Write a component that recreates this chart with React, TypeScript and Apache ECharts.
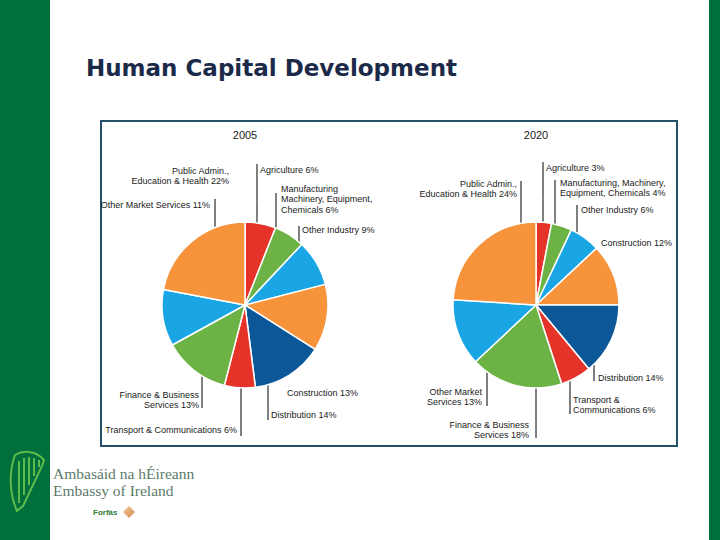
import React, { useEffect, useRef } from 'react';
import * as echarts from 'echarts';

// ---- data ----
const sectors = ['Agriculture', 'Manufacturing', 'Other Industry', 'Construction', 'Distribution', 'Transport & Communications', 'Finance & Business Services', 'Other Market Services', 'Public Admin., Education & Health'];
const values2005 = [6, 6, 9, 13, 14, 6, 13, 11, 22];
const values2020 = [3, 4, 6, 12, 14, 6, 18, 13, 24];
const labels2005 = ['Agriculture 6%', 'Manufacturing\nMachinery, Equipment,\nChemicals 6%', 'Other Industry 9%', 'Construction 13%', 'Distribution 14%', 'Transport & Communications 6%', 'Finance & Business\nServices 13%', 'Other Market Services 11%', 'Public Admin.,\nEducation & Health 22%'];
const labels2020 = ['Agriculture 3%', 'Manufacturing, Machinery,\nEquipment, Chemicals 4%', 'Other Industry 6%', 'Construction 12%', 'Distribution 14%', 'Transport &\nCommunications 6%', 'Finance & Business\nServices 18%', 'Other Market\nServices 13%', 'Public Admin.,\nEducation & Health 24%'];
const years = ['2005', '2020'];

// ---- styles / layout ----
const sliceColors = ['#e63329', '#6cb244', '#1aa6e4', '#f6933b', '#0b5797', '#e63329', '#6cb244', '#1aa6e4', '#f6933b'];
type Lay = { x: number; y: number; a: 'left' | 'right'; lx?: number; y1?: number; y2?: number };
const lay2005: Lay[] = [
  { x: 260, y: 170, a: 'left', lx: 257, y1: 164, y2: 237 },
  { x: 281, y: 199, a: 'left', lx: 276, y1: 193, y2: 252 },
  { x: 302, y: 230, a: 'left', lx: 299, y1: 226, y2: 273 },
  { x: 287, y: 393, a: 'left' },
  { x: 271, y: 415, a: 'left', lx: 268, y1: 362, y2: 420 },
  { x: 237, y: 430, a: 'right', lx: 241, y1: 364, y2: 436 },
  { x: 199, y: 400, a: 'right', lx: 202, y1: 348, y2: 408 },
  { x: 210, y: 205, a: 'right', lx: 215, y1: 199, y2: 312 },
  { x: 229, y: 176, a: 'right' },
];
const lay2020: Lay[] = [
  { x: 546, y: 168, a: 'left', lx: 543, y1: 162, y2: 237 },
  { x: 560, y: 188, a: 'left', lx: 555, y1: 180, y2: 244 },
  { x: 581, y: 210, a: 'left', lx: 577, y1: 205, y2: 253 },
  { x: 601, y: 243, a: 'left' },
  { x: 598, y: 378, a: 'left', lx: 594, y1: 327, y2: 381 },
  { x: 573, y: 405, a: 'left', lx: 570, y1: 355, y2: 414 },
  { x: 529, y: 430, a: 'right', lx: 536, y1: 353, y2: 438 },
  { x: 482, y: 397, a: 'right', lx: 487, y1: 327, y2: 406 },
  { x: 517, y: 189, a: 'right', lx: 521, y1: 181, y2: 247 },
];
const layouts = [lay2005, lay2020];

const harpPath = 'M8 6 C 18 0, 30 3, 37 11 L 35 17 L 16 57 L 10 62 C 2 44, 2 22, 8 6 Z M12 12 L12 54 M17 9 L17 46 M22 8 L22 36 M27 9 L27 27 M32 11 L32 18';
echarts.graphic.registerShape('harp', echarts.graphic.extendPath(harpPath, {}));

function makeSeries(idx: number, values: number[], labels: string[], cx: number) {
  const lay = layouts[idx];
  return {
    type: 'pie',
    name: years[idx],
    center: [cx, 305],
    radius: 83,
    startAngle: 90,
    clockwise: true,
    avoidLabelOverlap: false,
    itemStyle: { borderColor: '#ffffff', borderWidth: 1.5 },
    emphasis: { disabled: true },
    label: {
      show: true,
      position: 'outside',
      fontSize: 9,
      fontFamily: 'Liberation Sans',
      color: '#1a1a1a',
      lineHeight: 10.5,
    },
    labelLine: { show: true, lineStyle: { color: '#000', width: 1 } },
    labelLayout: (p: any) => {
      const L = lay[p.dataIndex];
      const r: any = { x: L.x, y: L.y, align: L.a, verticalAlign: 'middle' };
      if (L.lx != null) {
        r.labelLinePoints = [[L.lx, L.y2], [L.lx, ((L.y1 as number) + (L.y2 as number)) / 2], [L.lx, L.y1]];
      }
      return r;
    },
    data: values.map((v, i) => ({
      value: v,
      name: sectors[i],
      itemStyle: { color: sliceColors[i] },
      label: { formatter: labels[i], align: lay[i].a },
      labelLine: { show: lay[i].lx != null },
    })),
  };
}

export default function App() {
  const ref = useRef<HTMLDivElement>(null);
  useEffect(() => {
    if (!ref.current) return;
    const chart = echarts.init(ref.current, undefined, { renderer: 'svg' });
    chart.setOption({
      animation: false,
      backgroundColor: '#ffffff',
      graphic: [
        { type: 'rect', shape: { x: 0, y: 0, width: 50, height: 540 }, style: { fill: '#006f3c' } },
        { type: 'rect', shape: { x: 709, y: 0, width: 11, height: 540 }, style: { fill: '#006f3c' } },
        { type: 'text', x: 86, y: 68, style: { text: 'Human Capital Development', fontSize: 23, fontWeight: 'bold', fontFamily: 'DejaVu Sans', fill: '#1c2a4a', verticalAlign: 'middle' } },
        { type: 'rect', shape: { x: 101, y: 121, width: 576, height: 325 }, style: { fill: '#ffffff', stroke: '#24506a', lineWidth: 2 } },
        { type: 'text', x: 245, y: 135, style: { text: years[0], fontSize: 11, fontFamily: 'Liberation Sans', fill: '#1a1a1a', align: 'center', verticalAlign: 'middle' } },
        { type: 'text', x: 536, y: 135, style: { text: years[1], fontSize: 11, fontFamily: 'Liberation Sans', fill: '#1a1a1a', align: 'center', verticalAlign: 'middle' } },
        { type: 'harp', x: 7, y: 449, scaleX: 1, scaleY: 1, style: { fill: 'none', stroke: '#5dbb4a', lineWidth: 2 } },
        { type: 'text', x: 53, y: 473, style: { text: 'Ambasáid na hÉireann', fontSize: 15.5, fontFamily: 'Liberation Serif', fill: '#5c7a6c', verticalAlign: 'middle' } },
        { type: 'text', x: 53, y: 490, style: { text: 'Embassy of Ireland', fontSize: 15.5, fontFamily: 'Liberation Serif', fill: '#5c7a6c', verticalAlign: 'middle' } },
        { type: 'text', x: 93, y: 512, style: { text: 'Forfás', fontSize: 8, fontWeight: 'bold', fontFamily: 'Liberation Sans', fill: '#2f7d3a', verticalAlign: 'middle' } },
        { type: 'polygon', shape: { points: [[129, 506], [135, 512], [129, 518], [123, 512]] }, style: { fill: new echarts.graphic.LinearGradient(0, 0, 1, 1, [{ offset: 0, color: '#f0c8a0' }, { offset: 1, color: '#d98a4a' }]) } },
      ],
      series: [
        makeSeries(0, values2005, labels2005, 245),
        makeSeries(1, values2020, labels2020, 536),
      ],
    });
    return () => chart.dispose();
  }, []);
  return <div ref={ref} style={{ position: 'fixed', left: 0, top: 0, width: 720, height: 540 }} />;
}
